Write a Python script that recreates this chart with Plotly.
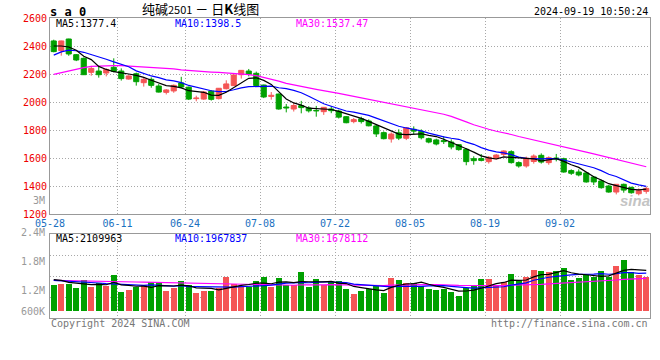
import plotly.graph_objects as go
import pandas as pd

# ---------------- data ----------------
dates = ["05-28","05-29","05-30","05-31",
         "06-03","06-04","06-05","06-06","06-07","06-11","06-12","06-13","06-14",
         "06-17","06-18","06-19","06-20","06-21","06-24","06-25","06-26","06-27","06-28",
         "07-01","07-02","07-03","07-04","07-05","07-08","07-09","07-10","07-11","07-12",
         "07-15","07-16","07-17","07-18","07-19","07-22","07-23","07-24","07-25","07-26",
         "07-29","07-30","07-31","08-01","08-02","08-05","08-06","08-07","08-08","08-09",
         "08-12","08-13","08-14","08-15","08-16","08-19","08-20","08-21","08-22","08-23",
         "08-26","08-27","08-28","08-29","08-30","09-02","09-03","09-04","09-05","09-06",
         "09-09","09-10","09-11","09-12","09-13","09-18","09-19"]
tick_dates = ["05-28","06-11","06-24","07-08","07-22","08-05","08-19","09-02"]

opens = [2436,2367,2450,2338,2312,2212,2221,2207,2248,2221,
         2164,2202,2138,2162,2114,2069,2079,2136,2106,2024,
         2021,2078,2024,2095,2117,2195,2221,2205,2121,2040,
         2057,1964,1950,1974,1957,1940,1931,1950,1935,1895,
         1860,1880,1864,1829,1781,1736,1780,1741,1805,1790,
         1738,1729,1724,1714,1695,1662,1595,1596,1574,1595,
         1626,1645,1567,1543,1575,1619,1567,1600,1595,1510,
         1500,1493,1464,1436,1400,1357,1412,1390,1345,1362]
highs = [2445,2438,2452,2342,2318,2258,2250,2240,2312,2240,
         2190,2210,2176,2176,2128,2092,2125,2180,2110,2045,
         2078,2085,2100,2155,2195,2228,2236,2217,2124,2071,
         2060,1986,1993,2008,1970,1972,1964,1970,1945,1898,
         1886,1895,1876,1836,1790,1783,1805,1820,1826,1805,
         1745,1738,1757,1733,1700,1670,1612,1628,1614,1628,
         1655,1655,1576,1610,1626,1633,1612,1629,1602,1519,
         1519,1500,1469,1445,1407,1412,1417,1395,1383,1395]
lows = [2355,2331,2330,2292,2193,2188,2174,2183,2212,2153,
        2160,2117,2110,2102,2068,2054,2066,2098,2014,2005,
        2016,2010,2018,2090,2114,2167,2183,2112,2028,2017,
        1945,1926,1932,1919,1925,1895,1908,1920,1882,1848,
        1848,1846,1826,1750,1733,1710,1728,1728,1769,1733,
        1705,1690,1700,1662,1652,1548,1552,1576,1560,1590,
        1612,1560,1531,1531,1560,1560,1552,1576,1495,1479,
        1469,1424,1407,1381,1352,1340,1352,1345,1333,1345]
closes = [2360,2436,2343,2300,2195,2240,2195,2233,2219,2167,
          2186,2145,2162,2119,2071,2086,2119,2107,2021,2029,
          2071,2019,2098,2129,2193,2226,2200,2117,2036,2048,
          1950,1957,1975,1960,1937,1936,1962,1938,1892,1852,
          1874,1860,1830,1772,1738,1771,1742,1815,1792,1745,
          1714,1700,1717,1679,1660,1574,1581,1583,1605,1621,
          1650,1567,1543,1598,1614,1571,1602,1593,1500,1491,
          1479,1429,1429,1388,1357,1412,1371,1352,1367,1383]
# volume (thousands of lots)
volumes = [1330,1382,1382,1209,1623,1243,1451,1278,1848,967,
           1071,1243,1330,1485,1451,1019,1192,1537,1330,933,
           1019,1019,1192,1744,1382,1295,1243,1537,1744,1243,
           1692,1330,1330,2003,1226,1641,1330,1485,1537,1123,
           881,1036,1123,1330,933,1692,1589,1451,1451,1313,
           1123,1088,1157,984,777,1174,1330,1641,1641,1295,
           1485,1917,1589,1744,2107,2055,2003,2055,2211,1589,
           1692,1848,1762,2055,1762,2314,2625,2003,1848,1744]

# moving-average values before enough history is visible
ma5_head = [2400, 2400, 2393, 2370]
ma10_head = [2335, 2358, 2370, 2366, 2355, 2340, 2323, 2305, 2287]
ma30_head = [2197, 2209, 2224, 2236, 2245, 2254, 2257, 2260, 2260, 2260,
             2257, 2255, 2252, 2248, 2243, 2240, 2236, 2230, 2225, 2221,
             2217, 2214, 2211, 2208, 2205, 2202, 2196, 2188, 2176]
vma5_head = [1623, 1589, 1485, 1451]
vma10_head = [1589, 1572, 1555, 1520, 1502, 1468, 1451, 1416, 1400]
vma30_head = [1590, 1585, 1578, 1570, 1562, 1555, 1546, 1538, 1530, 1522,
              1512, 1503, 1494, 1485, 1476, 1466, 1456, 1446, 1436, 1424,
              1412, 1400, 1390, 1380, 1370, 1360, 1350, 1342, 1334]

legend_price = ["MA5:1377.4", "MA10:1398.5", "MA30:1537.47"]
legend_vol = ["MA5:2109963", "MA10:1967837", "MA30:1678112"]
vol_labels = ["2.4M", "1.8M", "1.2M", "600K"]

# ---------------- helpers ----------------
W, H = 660, 360
RED = "#f45555"
GREEN = "#00a000"
MONO = "DejaVu Sans Mono"
GRID = "#a8a8a8"
AXL = "#999999"

n = len(dates)
idx = list(range(n))


def ma(series, win, head):
    s = pd.Series(series, dtype=float).rolling(win).mean().tolist()
    return list(head) + s[len(head):]


ma5 = ma(closes, 5, ma5_head)
ma10 = ma(closes, 10, ma10_head)
ma30 = ma(closes, 30, ma30_head)
vma5 = ma(volumes, 5, vma5_head)
vma10 = ma(volumes, 10, vma10_head)
vma30 = ma(volumes, 30, vma30_head)

up = [c >= o for o, c in zip(opens, closes)]
tick_idx = [dates.index(d) for d in tick_dates]
tickvals = [i - 0.5 for i in tick_idx]

fig = go.Figure()

# wicks
for flag, col in ((True, RED), (False, GREEN)):
    xs, ys = [], []
    for i in idx:
        if up[i] == flag:
            xs += [i, i, None]
            ys += [lows[i], highs[i], None]
    fig.add_trace(go.Scatter(x=xs, y=ys, mode="lines", line=dict(color=col, width=1),
                             hoverinfo="skip", showlegend=False, xaxis="x", yaxis="y"))
# bodies
for flag, col in ((True, RED), (False, GREEN)):
    sel = [i for i in idx if up[i] == flag]
    fig.add_trace(go.Bar(
        x=sel,
        y=[abs(closes[i] - opens[i]) for i in sel],
        base=[min(opens[i], closes[i]) for i in sel],
        width=0.68, marker=dict(color=col, line=dict(color=col, width=1)),
        showlegend=False, xaxis="x", yaxis="y"))

# price MAs
for vals, col in ((ma30, "#ff00ff"), (ma10, "#0000ff"), (ma5, "#000000")):
    fig.add_trace(go.Scatter(x=idx, y=vals, mode="lines", line=dict(color=col, width=1.2),
                             showlegend=False, xaxis="x", yaxis="y"))

# volume
fig.add_trace(go.Bar(x=idx, y=[v * 1000 for v in volumes], width=0.8,
                     marker=dict(color=[RED if u else GREEN for u in up], line=dict(width=0)),
                     showlegend=False, xaxis="x2", yaxis="y2"))
for vals, col in ((vma30, "#ff00ff"), (vma10, "#0000ff"), (vma5, "#000000")):
    fig.add_trace(go.Scatter(x=idx, y=[v * 1000 for v in vals], mode="lines",
                             line=dict(color=col, width=1.2),
                             showlegend=False, xaxis="x2", yaxis="y2"))

# ---------------- layout ----------------
xdom = [50 / W, 650 / W]
pdom = [1 - 214 / H, 1 - 18 / H]
vdom = [1 - 318 / H, 1 - 234 / H]

vpx = 51800.0  # volume units per pixel
vlo, vhi = -7 * vpx, 77 * vpx
vgrid = [vlo + (vhi - vlo) * k / 4 for k in (1, 2, 3)]

axis_common = dict(showline=True, mirror=True, linecolor=AXL, linewidth=1,
                   showgrid=True, gridcolor=GRID, griddash="1px,2px", gridwidth=1,
                   zeroline=False, ticks="", fixedrange=True, automargin=False)

fig.update_layout(
    width=W, height=H, autosize=False,
    margin=dict(l=0, r=0, t=0, b=0, pad=0),
    paper_bgcolor="white", plot_bgcolor="white",
    barmode="overlay", bargap=0,
    showlegend=False,
    xaxis=dict(domain=xdom, range=[-0.5, n - 0.5], anchor="y",
               tickmode="array", tickvals=tickvals, ticktext=tick_dates,
               tickfont=dict(family=MONO, size=10, color="#1a70c0"),
               ticklabelstandoff=0,
               **axis_common),
    yaxis=dict(domain=pdom, range=[1200, 2600], anchor="x",
               tickmode="linear", tick0=1200, dtick=200,
               tickfont=dict(family=MONO, size=10, color="#ee0000"),
               ticklabelstandoff=0,
               **axis_common),
    xaxis2=dict(domain=xdom, range=[-0.5, n - 0.5], anchor="y2", matches="x",
                tickmode="array", tickvals=tickvals, showticklabels=False,
                **axis_common),
    yaxis2=dict(domain=vdom, range=[vlo, vhi], anchor="x2",
                tickmode="array", tickvals=vgrid, showticklabels=False,
                **axis_common),
)

anns = []


def ann(text, xp, yp, xanchor="left", color="#000", size=10, family=MONO, **kw):
    anns.append(dict(text=text, x=xp / W, y=1 - yp / H, xref="paper", yref="paper",
                     xanchor=xanchor, yanchor="middle", showarrow=False,
                     font=dict(family=family, size=size, color=color), **kw))


ann("<b>s a 0</b>", 48, 11.5, size=12)
ann("纯碱<span style='font-size:11px'>2501</span> － 日<b>K</b>线图", 200, 8,
    xanchor="center", size=13, family="Noto Sans CJK SC")
ann("2024-09-19 10:50:24", 650, 12, xanchor="right", size=10)

for t, xp, col in zip(legend_price, (54, 173, 294), ("#000000", "#0000ff", "#ff00ff")):
    ann(t, xp, 24, color=col)
for t, xp, col in zip(legend_vol, (54, 173, 294), ("#000000", "#0000ff", "#ff00ff")):
    ann(t, xp, 238.5, color=col)

for t, yp in zip(vol_labels, (232, 261, 290, 311)):
    ann(t, 47, yp, xanchor="right", color="#999999")
ann("3M", 47, 200.5, xanchor="right", color="#999999")

ann("Copyright 2024 SINA.COM", 49, 323.5, color="#777777")
ann("http://finance.sina.com.cn", 650, 323.5, xanchor="right", color="#777777")
ann("<b><i>sina</i></b>", 652, 200, xanchor="right", color="#c4c4c4", size=15,
    family="Liberation Sans")

fig.update_layout(annotations=anns)

fig.write_html("out.html",
               config={"displayModeBar": False, "staticPlot": True},
               post_script="document.body.style.margin='0';document.body.style.padding='0';")
